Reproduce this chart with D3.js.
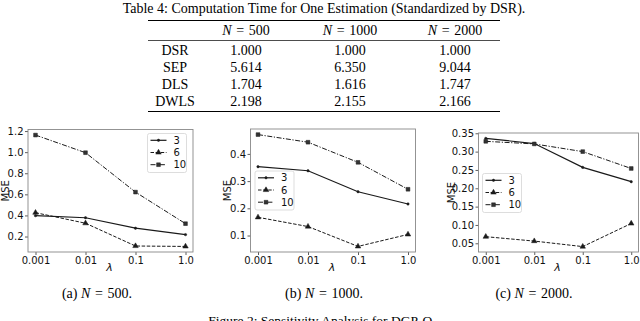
<!DOCTYPE html>
<html>
<head>
<meta charset="utf-8">
<script src="https://cdn.jsdelivr.net/npm/d3@7"></script>
<style>
  html, body { margin: 0; padding: 0; background: #fff; }
  svg { display: block; }
</style>
</head>
<body>
<div id="chart"></div>
<script>
// Table 4 + Figure 2 (sensitivity analysis), redrawn with d3.

// ---- table data ----
const tableSizes = ["500", "1000", "2000"];
const tableMethods = ["DSR", "SEP", "DLS", "DWLS"];
const time500  = ["1.000", "5.614", "1.704", "2.198"];
const time1000 = ["1.000", "6.350", "1.616", "2.155"];
const time2000 = ["1.000", "9.044", "1.747", "2.166"];

// ---- figure data ----
const lambdas = ["0.001", "0.01", "0.1", "1.0"];
const seriesNames = ["3", "6", "10"];

const mse500_3  = [0.398, 0.378, 0.279, 0.218];
const mse500_6  = [0.426, 0.326, 0.110, 0.106];
const mse500_10 = [1.162, 0.995, 0.621, 0.322];

const mse1000_3  = [0.353, 0.338, 0.261, 0.216];
const mse1000_6  = [0.167, 0.133, 0.060, 0.104];
const mse1000_10 = [0.471, 0.443, 0.369, 0.270];

const mse2000_3  = [0.336, 0.322, 0.257, 0.218];
const mse2000_6  = [0.068, 0.056, 0.041, 0.104];
const mse2000_10 = [0.328, 0.321, 0.300, 0.254];

const yTicks500  = [0.2, 0.4, 0.6, 0.8, 1.0, 1.2];
const yTicks1000 = [0.1, 0.2, 0.3, 0.4];
const yTicks2000 = [0.05, 0.10, 0.15, 0.20, 0.25, 0.30, 0.35];

const captions = ["(a) ", "(b) ", "(c) "];

// ---- layout ----
const W = 640, H = 321;
const SERIF = "'Liberation Serif', 'Times New Roman', serif";
const SANS = "'DejaVu Sans', sans-serif";
const EQ = "\u2004=\u2004"; // slightly wider spacing like LaTeX math "="

const PANELS = [
  { series: [mse500_3, mse500_6, mse500_10], ticks: yTicks500, fmt: ".1f",
    box: { x: 28, y: 129.5, w: 165, h: 122.5 }, legend: { x: 147.5, y: 133.5 },
    n: "500", capX: 97 },
  { series: [mse1000_3, mse1000_6, mse1000_10], ticks: yTicks1000, fmt: ".1f",
    box: { x: 250.5, y: 129, w: 165, h: 123 }, legend: { x: 255, y: 171 },
    n: "1000", capX: 324 },
  { series: [mse2000_3, mse2000_6, mse2000_10], ticks: yTicks2000, fmt: ".2f",
    box: { x: 478.5, y: 133, w: 160, h: 119 }, legend: { x: 482.5, y: 173.5 },
    n: "2000", capX: 534 },
];

const LINE_STYLES = [
  { dash: null,            width: 1.2, marker: "dot" },
  { dash: "3.5,1.6",       width: 1.0, marker: "tri" },
  { dash: "5,1.6,1.2,1.6", width: 1.0, marker: "sq" },
];
const INK = "#1a1a1a";

const svg = d3.select("#chart").append("svg")
  .attr("width", W).attr("height", H)
  .attr("viewBox", `0 0 ${W} ${H}`);

svg.append("rect").attr("width", W).attr("height", H).attr("fill", "#fff");

drawTable(svg);
PANELS.forEach((p, i) => drawPanel(svg, p, i));

// figure caption, cut by the bottom edge of the picture as in the source
svg.append("text")
  .attr("x", 322).attr("y", 324.5)
  .attr("text-anchor", "middle")
  .attr("font-family", SERIF).attr("font-size", 13.5)
  .attr("fill", "#000")
  .text("Figure 2: Sensitivity Analysis for DGP-O.");

function nLabel(sel, value) {
  sel.append("tspan").attr("font-style", "italic").text("N");
  sel.append("tspan").text(EQ + value);
}

function drawTable(svg) {
  const g = svg.append("g").attr("class", "table")
    .attr("font-family", SERIF).attr("fill", "#000");
  const RULE_X0 = 148, RULE_X1 = 500;
  const colX = [175, 246, 350, 455];
  const rowY = [55, 72, 89, 106];

  g.append("text")
    .attr("x", 324).attr("y", 12.5)
    .attr("text-anchor", "middle").attr("font-size", 14)
    .text("Table 4: Computation Time for One Estimation (Standardized by DSR).");

  const rules = [
    { y: 20.5, w: 1.1 },
    { y: 40.5, w: 0.7 },
    { y: 111.5, w: 1.1 },
  ];
  g.selectAll("line.rule").data(rules).join("line")
    .attr("class", "rule")
    .attr("x1", RULE_X0).attr("x2", RULE_X1)
    .attr("y1", d => d.y).attr("y2", d => d.y)
    .attr("stroke", "#000").attr("stroke-width", d => d.w);

  tableSizes.forEach((s, j) => {
    const t = g.append("text")
      .attr("x", colX[j + 1]).attr("y", 35)
      .attr("text-anchor", "middle").attr("font-size", 14);
    nLabel(t, s);
  });

  const cols = [tableMethods, time500, time1000, time2000];
  cols.forEach((col, j) => {
    g.selectAll(null).data(col).join("text")
      .attr("x", colX[j]).attr("y", (_, i) => rowY[i])
      .attr("text-anchor", "middle").attr("font-size", 14)
      .text(d => d);
  });
}

function drawPanel(svg, p, idx) {
  const { box } = p;
  const g = svg.append("g").attr("class", "panel");

  const x = d3.scalePoint().domain(lambdas)
    .range([box.x, box.x + box.w]).padding(0.15);

  const all = p.series.flat();
  const [lo, hi] = d3.extent(all);
  const pad = (hi - lo) * 0.05;
  const y = d3.scaleLinear().domain([lo - pad, hi + pad])
    .range([box.y + box.h, box.y]);

  // axes
  const xAxis = g.append("g")
    .attr("transform", `translate(0,${box.y + box.h})`)
    .call(d3.axisBottom(x).tickSize(3).tickPadding(2));
  const yAxis = g.append("g")
    .attr("transform", `translate(${box.x},0)`)
    .call(d3.axisLeft(y).tickValues(p.ticks).tickFormat(d3.format(p.fmt))
      .tickSize(3).tickPadding(1.5));
  for (const ax of [xAxis, yAxis]) {
    ax.select(".domain").remove();
    ax.selectAll(".tick line").attr("stroke", "#333").attr("stroke-width", 0.8);
    ax.selectAll(".tick text")
      .attr("font-family", SANS).attr("font-size", 10).attr("fill", "#111");
  }

  // frame
  g.append("rect")
    .attr("x", box.x).attr("y", box.y)
    .attr("width", box.w).attr("height", box.h)
    .attr("fill", "none").attr("stroke", "#888").attr("stroke-width", 0.9);

  // axis labels
  g.append("text")
    .attr("x", box.x + box.w / 2 - 1).attr("y", 271)
    .attr("text-anchor", "middle")
    .attr("font-family", SANS).attr("font-size", 11).attr("font-style", "italic")
    .attr("fill", "#111")
    .text("λ");
  const labelX = box.x - (p.fmt === ".2f" ? 27.5 : 23);
  g.append("text")
    .attr("transform", `translate(${labelX},${box.y + box.h / 2}) rotate(-90)`)
    .attr("text-anchor", "middle")
    .attr("dy", "0.35em")
    .attr("font-family", SANS).attr("font-size", 10)
    .attr("fill", "#111")
    .text("MSE");

  // series
  const line = d3.line().x((_, i) => x(lambdas[i])).y(d => y(d));
  p.series.forEach((vals, s) => {
    const st = LINE_STYLES[s];
    const gs = g.append("g").attr("class", "series");
    gs.append("path")
      .attr("d", line(vals))
      .attr("fill", "none").attr("stroke", INK)
      .attr("stroke-width", st.width)
      .attr("stroke-dasharray", st.dash);
    vals.forEach((v, i) => drawMarker(gs, st.marker, x(lambdas[i]), y(v)));
  });

  // legend
  const L = p.legend;
  const lg = g.append("g").attr("class", "legend");
  lg.append("rect")
    .attr("x", L.x).attr("y", L.y).attr("width", 39).attr("height", 39)
    .attr("rx", 2).attr("fill", "#fff").attr("fill-opacity", 0.85)
    .attr("stroke", "#d4d4d4").attr("stroke-width", 0.8);
  seriesNames.forEach((name, s) => {
    const st = LINE_STYLES[s];
    const cy = L.y + 6.8 + s * 12.2;
    lg.append("line")
      .attr("x1", L.x + 3).attr("x2", L.x + 19)
      .attr("y1", cy).attr("y2", cy)
      .attr("stroke", INK).attr("stroke-width", st.width)
      .attr("stroke-dasharray", st.dash);
    drawMarker(lg, st.marker, L.x + 11, cy);
    lg.append("text")
      .attr("x", L.x + 26).attr("y", cy)
      .attr("dy", "0.35em")
      .attr("font-family", SANS).attr("font-size", 10)
      .attr("fill", "#111")
      .text(name);
  });

  // sub-caption
  const cap = svg.append("text")
    .attr("x", p.capX).attr("y", 297.5)
    .attr("text-anchor", "middle")
    .attr("font-family", SERIF).attr("font-size", 14)
    .attr("fill", "#000");
  cap.append("tspan").text(captions[idx]);
  nLabel(cap, p.n + ".");
}

function drawMarker(g, kind, cx, cy) {
  const type = kind === "tri" ? d3.symbolTriangle
    : kind === "sq" ? d3.symbolSquare : d3.symbolCircle;
  const size = kind === "tri" ? 13 : kind === "sq" ? 14 : 4.5;
  g.append("path")
    .attr("d", d3.symbol(type, size)())
    .attr("transform", `translate(${cx},${cy})`)
    .attr("fill", kind === "sq" ? "#333" : INK)
    .attr("stroke", INK).attr("stroke-width", 0.5);
}
</script>
</body>
</html>
